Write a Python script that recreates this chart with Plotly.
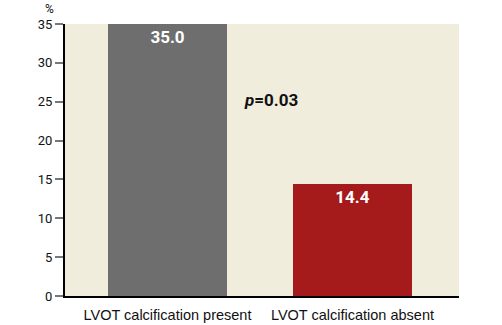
import plotly.graph_objects as go

categories = ["LVOT calcification present", "LVOT calcification absent"]
values = [35.0, 14.4]
value_labels = ["35.0", "14.4"]
colors = ["#6e6e6e", "#a51a1a"]
y_ticks = [0, 5, 10, 15, 20, 25, 30, 35]
p_text = "<i>p</i>=0.03"

cond = "Roboto, Liberation Sans, sans-serif"

fig = go.Figure()
fig.add_trace(go.Bar(
    x=[0, 1], y=values, width=0.643,
    marker=dict(color=colors, line=dict(width=0)),
    text=value_labels, textposition="inside", insidetextanchor="end",
    textfont=dict(family=cond, size=17, color="white"),
    textangle=0, hoverinfo="skip",
))
fig.update_traces(texttemplate="<b>%{text}</b>")

fig.update_layout(
    width=502, height=325,
    margin=dict(l=65, r=43, t=24, b=29),
    paper_bgcolor="white", plot_bgcolor="#f1eddc",
    showlegend=False, bargap=0,
    xaxis=dict(
        range=[-0.554, 1.576], tickmode="array", tickvals=[0, 1], ticktext=categories,
        showgrid=False, zeroline=False, ticks="outside", ticklen=5, tickcolor="rgba(0,0,0,0)",
        showline=True, linecolor="black", linewidth=2, automargin=False,
        tickfont=dict(family="Liberation Sans, Arial, sans-serif", size=14.5, color="#111"),
        fixedrange=True,
    ),
    yaxis=dict(
        range=[0, 35], tickvals=y_ticks, showgrid=False, zeroline=False,
        showline=True, linecolor="black", linewidth=2, automargin=False,
        ticks="outside", ticklen=8, tickcolor="#777", tickwidth=2,
        tickfont=dict(family=cond, size=13, color="#111"),
        fixedrange=True,
    ),
    font=dict(family=cond),
)

fig.add_annotation(x=0, y=1, xref="paper", yref="paper", xshift=-16, yshift=6,
                   text="%", showarrow=False, xanchor="center", yanchor="bottom",
                   font=dict(family=cond, size=12, color="#111"))
fig.add_annotation(x=0.523, y=0.72, xref="paper", yref="paper",
                   text="<b>" + p_text + "</b>", showarrow=False, xanchor="center", yanchor="middle",
                   font=dict(family=cond, size=17, color="#111"))

fig.write_html("out.html")
